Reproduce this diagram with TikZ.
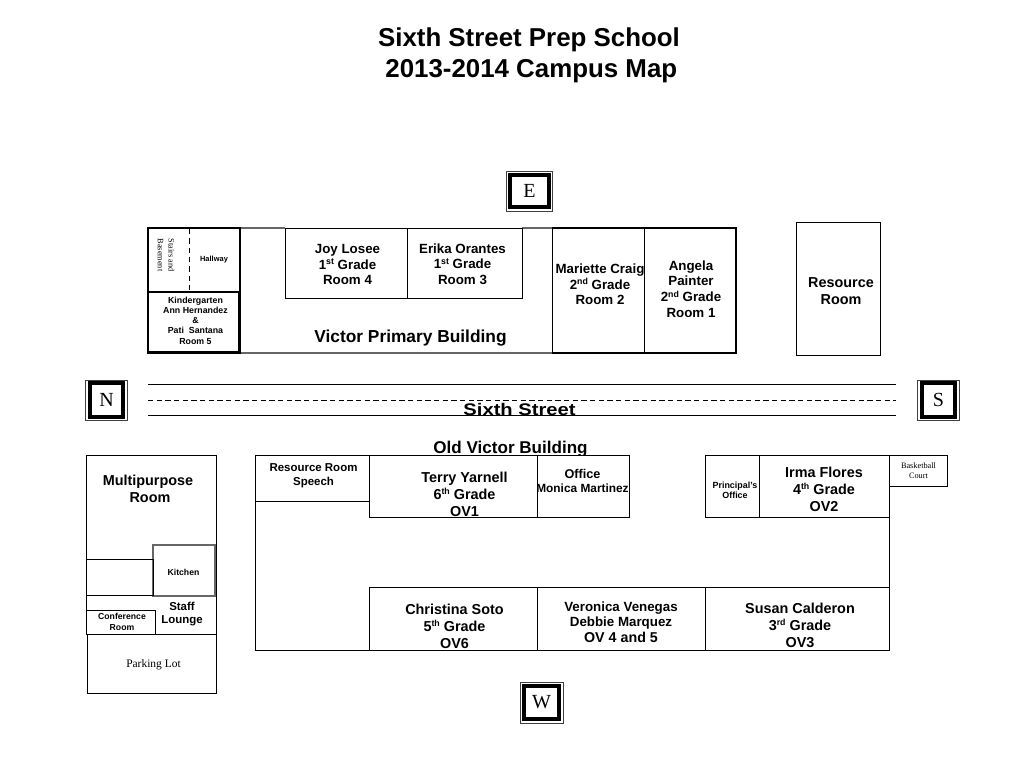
\documentclass[tikz,border=0pt]{standalone}
\usepackage{fontspec}
\setmainfont{Liberation Sans}
\newfontfamily\timesfont{Liberation Serif}
\newcommand{\ordinal}[1]{\raisebox{0.62ex}{\fontsize{6.6}{7}\selectfont #1}}
\tikzset{
  wall/.style={draw=black, line width=0.75pt},
  thinwall/.style={draw=black, line width=0.6pt},
  heavywall/.style={draw=black, line width=1pt},
  graywall/.style={draw=black!60, line width=0.8pt},
  titletext/.style={align=center, inner sep=0pt, font=\fontsize{19.4}{23}\selectfont\bfseries},
  headtext/.style={align=center, inner sep=0pt, font=\fontsize{13}{15}\selectfont\bfseries},
  roomtext/.style={align=center, inner sep=0pt, font=\fontsize{10}{11.7}\selectfont\bfseries},
  bigroomtext/.style={align=center, inner sep=0pt, font=\fontsize{10.8}{12.8}\selectfont\bfseries},
  midtext/.style={align=center, inner sep=0pt, font=\fontsize{8.6}{10.2}\selectfont\bfseries},
  tinytext/.style={align=center, inner sep=0pt, font=\fontsize{6.5}{7.8}\selectfont\bfseries},
  serifsmall/.style={align=center, inner sep=0pt, font=\fontsize{6.2}{8}\selectfont\timesfont},
  compassouter/.style={draw=black!75, line width=0.7pt, inner sep=0pt},
  compassinner/.style={draw=black, line width=3pt, inner sep=0pt,
    font=\fontsize{15}{15}\selectfont\timesfont}
}
\begin{document}
\begin{tikzpicture}[x=0.75pt, y=-0.75pt]
  \useasboundingbox (0,0) rectangle (1024,768);

  \node[titletext] (title) at (529,55) {Sixth Street Prep School\\ \hspace*{3.5pt}2013-2014 Campus Map};

  % compass boxes
  \foreach \place/\pos/\ow/\oh/\iw/\ih/\letter in {
    east/{529.5,191}/35/30/29.8/24.4/E,
    north/{106.5,400}/31.5/30/25.4/25.4/N,
    south/{938.5,400}/31.5/30/25.4/25.4/S,
    west/{541.5,702.5}/32.2/30.7/26/24.6/W} {
    \node[compassouter, minimum width=\ow pt, minimum height=\oh pt] (\place outer) at (\pos) {};
    \node[compassinner, minimum width=\iw pt, minimum height=\ih pt] (\place) at (\pos) {\letter};
  }

  % Victor Primary Building
  \draw[graywall] (240,228) -- (285,228) (522,228) -- (552,228) (239,353) -- (552,353);
  \draw[heavywall] (148,228) rectangle (240,353);
  \draw[heavywall] (148,292) rectangle (239,352);
  \draw[wall, dashed, dash pattern=on 4pt off 3pt] (189,229) -- (189,291);
  \draw[wall] (285,228) rectangle (407,298);
  \draw[wall] (407,228) rectangle (522,298);
  \draw[wall] (552,228) rectangle (644,353);
  \draw[heavywall] (644,228) -- (736,228) -- (736,353) -- (644,353);
  \draw[heavywall] (552,228) -- (644,228) (552,353) -- (644,353);
  \draw[thinwall] (796,222) rectangle (880,355);

  \node[serifsmall, rotate=-90] (stairs) at (166,255) {Stairs and\\Basement};
  \node[tinytext, font=\fontsize{5.6}{7}\selectfont\bfseries] (hallway) at (214,259.5) {Hallway};
  \node[tinytext, font=\fontsize{6.6}{7.65}\selectfont\bfseries] (kinder) at (195.5,320.5) {Kindergarten\\Ann Hernandez\\\&\\Pati~ Santana\\Room 5};
  \node[roomtext] (joy) at (347.5,264.5) {Joy Losee\\1\ordinal{st} Grade\\Room 4};
  \node[roomtext] (erika) at (462.5,264) {Erika Orantes\\1\ordinal{st} Grade\\Room 3};
  \node[headtext] (primary) at (410.5,338) {Victor Primary Building};
  \node[roomtext] (mariette) at (600,284.5) {Mariette Craig\\2\ordinal{nd} Grade\\Room 2};
  \node[roomtext] (angela) at (691,289) {Angela\\Painter\\2\ordinal{nd} Grade\\Room 1};
  \node[bigroomtext] (resource) at (841,291) {Resource\\Room};

  % Sixth Street
  \draw[wall] (148,384) -- (896,384);
  \draw[wall, dashed, dash pattern=on 4pt off 2.5pt] (148,400) -- (896,400);
  \draw[wall] (148,415) -- (896,415);
  \node[headtext, anchor=base, font=\fontsize{12.6}{15}\selectfont\bfseries] (street) at (519.5,415) {\scalebox{1.2}[1]{Sixth Street}};

  % Old Victor Building
  \begin{scope}
    \clip (400,430) rectangle (620,455);
    \node[headtext, anchor=base, font=\fontsize{12.8}{15}\selectfont\bfseries] (oldvictor) at (510.5,453) {Old Victor Building};
  \end{scope}
  \draw[wall] (629,455) -- (537,455) (705,455) -- (889,455) -- (889,650) -- (255,650) -- (255,455) -- (369,455);
  \draw[wall] (255,455) rectangle (369,501);
  \draw[wall] (369,455) rectangle (537,517);
  \draw[wall] (537,455) rectangle (629,517);
  \draw[wall] (705,455) rectangle (759,517);
  \draw[wall] (759,455) rectangle (889,517);
  \draw[wall] (889,455) rectangle (947,486);
  \draw[wall] (369,587) rectangle (537,650);
  \draw[wall] (537,587) rectangle (705,650);
  \draw[wall] (705,587) rectangle (889,650);

  \node[midtext] (speech) at (313.5,476) {Resource Room\\Speech};
  \node[bigroomtext] (terry) at (464.5,494) {Terry Yarnell\\6\ordinal{th} Grade\\OV1};
  \node[midtext, font=\fontsize{9.5}{10.8}\selectfont\bfseries] (office) at (582.5,481) {Office\\[0pt]{\fontsize{8.9}{10}\selectfont Monica Martinez}};
  \node[tinytext, font=\fontsize{6.7}{7.8}\selectfont\bfseries] (principal) at (735,490.5) {Principal's\\Office};
  \node[bigroomtext] (irma) at (824,489) {Irma Flores\\4\ordinal{th} Grade\\OV2};
  \node[serifsmall] (court) at (918.5,470.5) {Basketball\\Court};
  \node[bigroomtext] (christina) at (454.5,626) {Christina Soto\\5\ordinal{th} Grade\\OV6};
  \node[midtext, font=\fontsize{10}{11.5}\selectfont\bfseries] (veronica) at (621,622) {Veronica Venegas\\Debbie Marquez\\{\fontsize{10.7}{12}\selectfont OV 4 and 5}};
  \node[bigroomtext] (susan) at (800,625.5) {Susan Calderon\\3\ordinal{rd} Grade\\OV3};

  % Multipurpose wing
  \draw[wall] (86,455) -- (216,455) -- (216,634) (86,634) -- (86,455);
  \draw[graywall] (153,545) rectangle (215,596);
  \draw[wall] (86,559) rectangle (153,595);
  \draw[wall] (86,610.5) rectangle (155,634);
  \draw[wall] (87,634) rectangle (216,693);

  \node[bigroomtext] (multi) at (148,488.5) {Multipurpose\\\hspace*{3pt}Room};
  \node[tinytext] (kitchen) at (183.5,572) {Kitchen};
  \node[midtext] (staff) at (182,614) {Staff\\Lounge};
  \node[tinytext] (conf) at (122,622) {Conference\\Room};
  \node[serifsmall, font=\fontsize{8.6}{9}\selectfont\timesfont] (parking) at (153.5,665) {Parking Lot};
\end{tikzpicture}
\end{document}
